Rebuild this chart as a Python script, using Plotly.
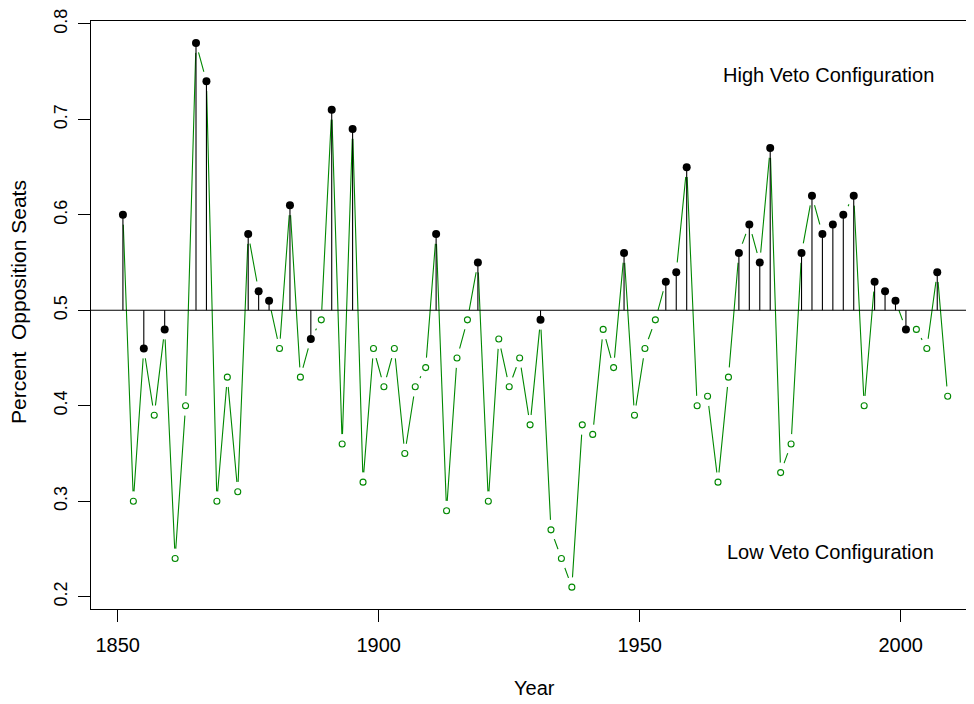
import plotly.graph_objects as go

years = list(range(1851, 2010, 2))
opp_seats = [
    0.60, 0.30, 0.46, 0.39, 0.48, 0.24, 0.40, 0.78, 0.74, 0.30,
    0.43, 0.31, 0.58, 0.52, 0.51, 0.46, 0.61, 0.43, 0.47, 0.49,
    0.71, 0.36, 0.69, 0.32, 0.46, 0.42, 0.46, 0.35, 0.42, 0.44,
    0.58, 0.29, 0.45, 0.49, 0.55, 0.30, 0.47, 0.42, 0.45, 0.38,
    0.49, 0.27, 0.24, 0.21, 0.38, 0.37, 0.48, 0.44, 0.56, 0.39,
    0.46, 0.49, 0.53, 0.54, 0.65, 0.40, 0.41, 0.32, 0.43, 0.56,
    0.59, 0.55, 0.67, 0.33, 0.36, 0.56, 0.62, 0.58, 0.59, 0.60,
    0.62, 0.40, 0.53, 0.52, 0.51, 0.48, 0.48, 0.46, 0.54, 0.41,
]
# 1 = high veto configuration (filled dot with stem), 0 = low veto (open circle)
high_veto = [
    1, 0, 1, 0, 1, 0, 0, 1, 1, 0,
    0, 0, 1, 1, 1, 0, 1, 0, 1, 0,
    1, 0, 1, 0, 0, 0, 0, 0, 0, 0,
    1, 0, 0, 0, 1, 0, 0, 0, 0, 0,
    1, 0, 0, 0, 0, 0, 0, 0, 1, 0,
    0, 0, 1, 1, 1, 0, 0, 0, 0, 1,
    1, 1, 1, 0, 0, 1, 1, 1, 1, 1,
    1, 0, 1, 1, 1, 1, 0, 0, 1, 0,
]
threshold = 0.5
x_ticks = [1850, 1900, 1950, 2000]
y_ticks = [0.2, 0.3, 0.4, 0.5, 0.6, 0.7, 0.8]
y_tick_labels = ["0.2", "0.3", "0.4", "0.5", "0.6", "0.7", "0.8"]

GREEN = "#008800"
FONT = "Liberation Sans, Arial, Helvetica, sans-serif"

hx = [y for y, h in zip(years, high_veto) if h]
hy = [v for v, h in zip(opp_seats, high_veto) if h]
lx = [y for y, h in zip(years, high_veto) if not h]
ly = [v for v, h in zip(opp_seats, high_veto) if not h]

stem_x, stem_y = [], []
for yr, v in zip(hx, hy):
    stem_x += [yr, yr, None]
    stem_y += [threshold, v, None]

fig = go.Figure()
# connecting green line
fig.add_trace(go.Scatter(x=years, y=opp_seats, mode="lines",
                         line=dict(color=GREEN, width=1.1),
                         hoverinfo="skip", showlegend=False))
# white discs to create the gaps of an R type="b" plot
fig.add_trace(go.Scatter(x=years, y=opp_seats, mode="markers",
                         marker=dict(color="white", size=20, line=dict(width=0)),
                         hoverinfo="skip", showlegend=False))
# threshold line
fig.add_trace(go.Scatter(x=[1800, 2100], y=[threshold, threshold], mode="lines",
                         line=dict(color="black", width=1.1),
                         hoverinfo="skip", showlegend=False))
# stems
fig.add_trace(go.Scatter(x=stem_x, y=stem_y, mode="lines",
                         line=dict(color="black", width=1.1),
                         hoverinfo="skip", showlegend=False))
# low veto open circles
fig.add_trace(go.Scatter(x=lx, y=ly, mode="markers",
                         marker=dict(symbol="circle-open", size=6, color=GREEN,
                                     line=dict(color=GREEN, width=1.1)),
                         showlegend=False))
# high veto filled dots
fig.add_trace(go.Scatter(x=hx, y=hy, mode="markers",
                         marker=dict(symbol="circle", size=8, color="black",
                                     line=dict(width=0)),
                         showlegend=False))

fig.add_annotation(x=1986.1, y=0.747, xref="x", yref="y", text="High Veto Configuration",
                   showarrow=False, font=dict(family=FONT, size=20, color="black"))
fig.add_annotation(x=1986.5, y=0.2465, xref="x", yref="y", text="Low Veto Configuration",
                   showarrow=False, font=dict(family=FONT, size=20, color="black"))
fig.add_annotation(x=0.5028, y=-0.1344, xref="paper", yref="paper", text="Year",
                   showarrow=False, font=dict(family=FONT, size=20, color="black"),
                   xanchor="center", yanchor="middle")
fig.add_annotation(x=-0.0827, y=0.522, xref="paper", yref="paper",
                   text="Percent  Opposition Seats", textangle=-90,
                   showarrow=False, font=dict(family=FONT, size=21, color="black"),
                   xanchor="center", yanchor="middle")

# page body has an 8px default margin, so the figure is 8px smaller
fig.update_layout(
    width=966, height=696,
    margin=dict(l=83, r=0, t=13, b=95, autoexpand=False),
    paper_bgcolor="white", plot_bgcolor="white",
    font=dict(family=FONT, color="black"),
)
# the original plot box continues past the right edge of the image (cropped)
fig.update_xaxes(range=[1844.885, 2014.04], tickvals=x_ticks,
                 ticktext=[str(t) for t in x_ticks],
                 showgrid=False, zeroline=False, automargin=False,
                 showline=True, linecolor="black", linewidth=1.2, mirror=True,
                 ticks="outside", ticklen=12, tickcolor="black", tickwidth=1,
                 tickfont=dict(family=FONT, size=20, color="black"),
                 ticklabelstandoff=6)
fig.update_yaxes(range=[0.1871, 0.8031], tickvals=y_ticks, ticktext=y_tick_labels,
                 tickangle=-90,
                 showgrid=False, zeroline=False, automargin=False,
                 showline=True, linecolor="black", linewidth=1.2, mirror=False,
                 ticks="outside", ticklen=12, tickcolor="black", tickwidth=1,
                 tickfont=dict(family=FONT, size=18, color="black"),
                 ticklabelstandoff=4)

fig.write_html("out.html")
